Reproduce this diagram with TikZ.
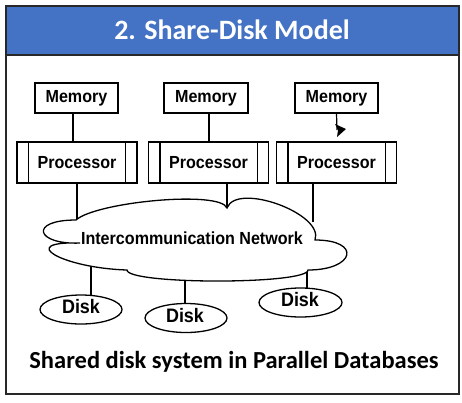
\documentclass[tikz,border=0pt]{standalone}
\usepackage{fontspec}
\setmainfont{Carlito}
\newfontfamily\lsans{Liberation Sans}[FakeStretch=0.92]
\usetikzlibrary{shapes.geometric,backgrounds,calc}
\definecolor{hdrblue}{RGB}{68,114,196}
\definecolor{framegray}{RGB}{40,40,40}
\tikzset{
  membox/.style={draw, line width=1.3pt, fill=white, minimum width=83pt, minimum height=30pt, inner sep=0pt,
    font=\lsans\bfseries\fontsize{17.5}{19}\selectfont},
  procbox/.style={draw, line width=1.3pt, fill=white, minimum width=120pt, minimum height=41pt, inner sep=0pt,
    font=\lsans\bfseries\fontsize{17.5}{19}\selectfont},
  diskell/.style={draw, ellipse, line width=1.3pt, fill=white, minimum width=82pt, minimum height=29pt, inner sep=0pt},
  disklabel/.style={font=\lsans\bfseries\fontsize{19.5}{21}\selectfont, inner sep=0pt},
  conn/.style={line width=1.2pt},
  cloudline/.style={line width=1.3pt, fill=white},
}
\begin{document}
\begin{tikzpicture}[x=1pt,y=-1pt]
\useasboundingbox (0,0) rectangle (462,402);
% frame and header
\fill[hdrblue] (6,6) rectangle (459,55);
\draw[framegray, line width=1.8pt] (6,6) rectangle (459,394);
\draw[framegray, line width=1.8pt] (6,55) -- (459,55);
\node[text=white, font=\bfseries\fontsize{28}{32}\selectfont, inner sep=0pt] (title) at (232,30) {2. Share-Disk Model};

% memory
\node[membox] (m1) at (76.5,98) {Memory};
\node[membox, minimum width=84pt] (m2) at (206,98) {Memory};
\node[membox] (m3) at (336.5,98) {Memory};
% processors
\node[procbox] (p1) at (77,162.5) {Processor};
\node[procbox] (p2) at (208.5,162.5) {Processor};
\node[procbox] (p3) at (336.5,162.5) {Processor};
\foreach \p in {p1,p2,p3}{
  \draw[line width=1.3pt] ([xshift=12pt]\p.north west) -- ([xshift=12pt]\p.south west);
  \draw[line width=1.3pt] ([xshift=-12pt]\p.north east) -- ([xshift=-12pt]\p.south east);
}
% memory - processor
\draw[conn] ([xshift=-3.5pt]m1.south) -- ([xshift=-3.5pt]m1.south |- p1.north);
\draw[conn] ([xshift=3pt]m2.south) -- ([xshift=3pt]m2.south |- p2.north);
\coordinate (tip) at (337,130);
\draw[conn] (m3.south) -- (tip);
\fill ($(tip)+(-2,-6)$) -- ($(tip)+(9,-1)$) -- ($(tip)+(0,7)$) -- ($(tip)+(1,0)$) -- cycle;

% cloud attachment points (inside cloud)
\coordinate (c1) at (77,228);
\coordinate (c2) at (227,216);
\coordinate (c3) at (313,222);
\coordinate (c4) at (91,262);
\coordinate (c5) at (185,272);
\coordinate (c6) at (307,262);

% disks
\node[diskell] (d1) at (81,309.5) {};
\node[diskell] (d2) at (186,318) {};
\node[diskell, minimum width=83pt] (d3) at (300.5,302.5) {};
\node[disklabel] (t1) at (81,307) {Disk};
\node[disklabel] (t2) at (185,316) {Disk};
\node[disklabel] (t3) at (300,300) {Disk};

\begin{pgfonlayer}{background}
\draw[conn] (p1.south -| c1) -- (c1);
\draw[conn] (p2.south -| c2) -- (c2);
\draw[conn] (p3.south -| c3) -- (c3);
\draw[conn] (c4) -- (c4 |- d1.center);
\draw[conn] (c5) -- (c5 |- d2.center);
\draw[conn] (c6) -- (c6 |- d3.center);
\end{pgfonlayer}

% cloud
\draw[cloudline] (80,243) .. controls (36,245) and (28,220) .. (76,220)
  .. controls (96,202) and (220,190) .. (227,208)
  .. controls (236.6,181.7) and (324.6,213.7) .. (315,240)
  .. controls (362,240) and (355,270) .. (308,270)
  .. controls (308,284.7) and (127,284.7) .. (127,270)
  .. controls (62.3,268) and (15.3,241) .. cycle;
\node[font=\lsans\bfseries\fontsize{17.5}{19}\selectfont, inner sep=0pt] (net) at (192,238) {Intercommunication Network};

% caption
\node[font=\bfseries\fontsize{24.5}{28}\selectfont, inner sep=0pt] (cap) at (234,362) {Shared disk system in Parallel Databases};
\end{tikzpicture}
\end{document}
